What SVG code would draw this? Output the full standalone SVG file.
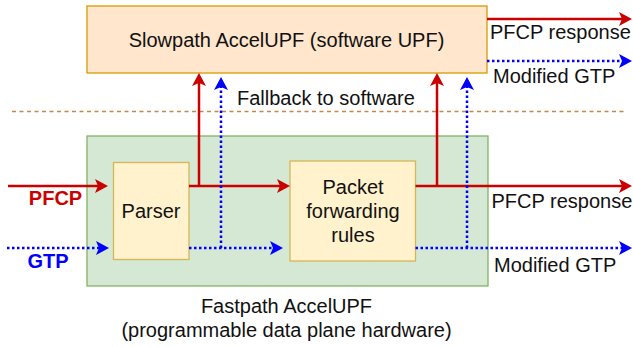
<svg xmlns="http://www.w3.org/2000/svg" width="633" height="347" viewBox="0 0 633 347">
  <defs>
    <style>
      text { font-family: "Liberation Sans", Arial, sans-serif; font-size: 20px; fill: #111; }
      .mid { text-anchor: middle; }
      .bold { font-weight: bold; }
      .pfcp { stroke: #cc0000; stroke-width: 2.5; fill: none; }
      .gtp { stroke: #0000ff; stroke-width: 2.5; fill: none; stroke-dasharray: 2.5 2.5; }
      .sep { stroke: #c8864c; stroke-width: 1.5; fill: none; stroke-dasharray: 4 3.5; }
    </style>
    <marker id="arrowRed" viewBox="0 0 13 14" refX="3" refY="7" markerWidth="13" markerHeight="14" markerUnits="userSpaceOnUse" orient="auto">
      <path d="M0,0 L13,7 L0,14 L3,7 Z" fill="#cc0000"/>
    </marker>
    <marker id="arrowBlue" viewBox="0 0 13 14" refX="3" refY="7" markerWidth="13" markerHeight="14" markerUnits="userSpaceOnUse" orient="auto">
      <path d="M0,0 L13,7 L0,14 L3,7 Z" fill="#0000ff"/>
    </marker>
  </defs>

  <!-- boundary between software and hardware -->
  <line class="sep" x1="12" y1="111.5" x2="626" y2="111.5"/>

  <g id="slowpath">
    <rect x="87" y="6" width="400" height="67" fill="#ffe6cc" stroke="#d79b00" stroke-width="1.3"/>
    <text x="286.5" y="47" class="mid">Slowpath AccelUPF (software UPF)</text>
  </g>

  <g id="fastpath">
    <rect x="87" y="136" width="401" height="150" fill="#d5e8d4" stroke="#82b366" stroke-width="1.3"/>
    <text x="286.5" y="312.5" class="mid">Fastpath AccelUPF</text>
    <text x="286.5" y="336.5" class="mid">(programmable data plane hardware)</text>
  </g>

  <g id="parser">
    <rect x="113.5" y="162.5" width="75.5" height="97" fill="#fff2cc" stroke="#d6b656" stroke-width="1.3"/>
    <text x="151" y="218" class="mid">Parser</text>
  </g>

  <g id="rules">
    <rect x="290" y="161" width="125.5" height="100" fill="#fff2cc" stroke="#d6b656" stroke-width="1.3"/>
    <text x="353" y="194" class="mid">Packet</text>
    <text x="353" y="218" class="mid">forwarding</text>
    <text x="353" y="242" class="mid">rules</text>
  </g>

  <g id="connectors">
    <!-- PFCP (control) path -->
    <path class="pfcp" d="M8,186 H98" marker-end="url(#arrowRed)"/>
    <path class="pfcp" d="M189,186 H280" marker-end="url(#arrowRed)"/>
    <path class="pfcp" d="M199,186 V83" marker-end="url(#arrowRed)"/>
    <path class="pfcp" d="M415.5,186 H622" marker-end="url(#arrowRed)"/>
    <path class="pfcp" d="M437,186 V83" marker-end="url(#arrowRed)"/>
    <path class="pfcp" d="M487,19 H622" marker-end="url(#arrowRed)"/>

    <!-- GTP (user plane) path -->
    <path class="gtp" d="M7,248 H99" marker-end="url(#arrowBlue)"/>
    <path class="gtp" d="M189,248 H273" marker-end="url(#arrowBlue)"/>
    <path class="gtp" d="M221,248 V87" marker-end="url(#arrowBlue)"/>
    <path class="gtp" d="M415.5,248 H622" marker-end="url(#arrowBlue)"/>
    <path class="gtp" d="M467,248 V87" marker-end="url(#arrowBlue)"/>
    <path class="gtp" d="M487,61 H622" marker-end="url(#arrowBlue)"/>
  </g>

  <g id="labels">
    <text x="237" y="105">Fallback to software</text>
    <text x="490" y="38.5">PFCP response</text>
    <text x="493" y="83">Modified GTP</text>
    <text x="491.5" y="207.5">PFCP response</text>
    <text x="494" y="271.5">Modified GTP</text>
    <text x="55.5" y="205" class="mid bold" style="fill:#cc0000">PFCP</text>
    <text x="48" y="267.5" class="mid bold" style="fill:#0000ff">GTP</text>
  </g>
</svg>
